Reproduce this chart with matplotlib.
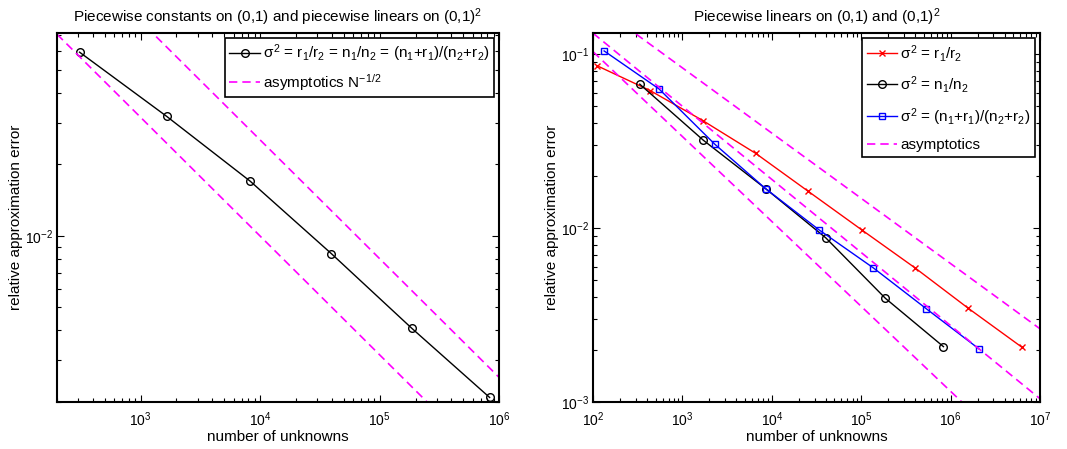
import matplotlib

matplotlib.use("Agg")
import matplotlib.pyplot as plt
from matplotlib.ticker import LogLocator, NullFormatter

plt.rcParams["font.family"] = ["Liberation Sans", "DejaVu Sans"]
plt.rcParams["mathtext.fontset"] = "custom"
plt.rcParams["mathtext.rm"] = "Liberation Sans"
plt.rcParams["mathtext.it"] = "Liberation Sans"
plt.rcParams["mathtext.bf"] = "Liberation Sans:bold"
plt.rcParams["font.size"] = 11

# linker Plot: stueckweise konstant auf (0,1), linear auf (0,1)^2
n_left = [309, 1653, 8283, 39500, 185800, 834000]
err_left = [0.0594, 0.0319, 0.0170, 0.00843, 0.00409, 0.00209]
asym_left_n = [200, 1e6]
asym_left_hi = [0.1796, 0.00254]
asym_left_lo = [0.0707, 0.00100]

# rechter Plot: stueckweise linear auf (0,1) und (0,1)^2
n_r = [112, 437, 1687, 6607, 25650, 101100, 400000, 1578000, 6290000]
err_r = [0.0853, 0.0615, 0.0414, 0.0268, 0.0162, 0.00975, 0.00589, 0.00345, 0.00206]
n_n = [333, 1714, 8531, 40100, 186200, 829600]
err_n = [0.0670, 0.0319, 0.0168, 0.00877, 0.00394, 0.00208]
n_nr = [133, 547, 2296, 8531, 33700, 136700, 531000, 2094000]
err_nr = [0.104, 0.0629, 0.0303, 0.0168, 0.00975, 0.00589, 0.00344, 0.00201]
asym_right_n = [1e2, 1e7]
asym_right = [
    [0.197, 0.00263],
    [0.1315, 0.001043],
    [0.103, 0.000374],
]

MAGENTA = "#ff00ff"


def _style_axes(ax):
    ax.set_xscale("log")
    ax.set_yscale("log")
    for sp in ax.spines.values():
        sp.set_linewidth(1.5)
    ax.tick_params(which="both", direction="in", top=True, right=True, labelsize=10)
    ax.tick_params(which="major", length=5, width=0.8)
    ax.tick_params(which="minor", length=3, width=0.8)
    ax.tick_params(axis="x", which="major", pad=6)
    ax.tick_params(axis="y", which="major", pad=3)
    ax.xaxis.set_minor_locator(LogLocator(base=10, subs=range(2, 10), numticks=20))
    ax.yaxis.set_minor_locator(LogLocator(base=10, subs=range(2, 10), numticks=20))
    ax.xaxis.set_minor_formatter(NullFormatter())
    ax.yaxis.set_minor_formatter(NullFormatter())
    ax.set_xlabel("number of unknowns", labelpad=1)
    ax.set_ylabel("relative approximation error", labelpad=1)


def _legend(ax, spacing):
    leg = ax.legend(loc="upper right", fancybox=False, edgecolor="k", framealpha=1,
                    handlelength=2.0, handletextpad=0.2, borderpad=0.3,
                    numpoints=1, borderaxespad=0.33, labelspacing=spacing)
    leg.get_frame().set_linewidth(1.2)


fig = plt.figure(figsize=(10.67, 4.49), dpi=100)
ax1 = fig.add_axes([0.0534, 0.1047, 0.4143, 0.822])
ax2 = fig.add_axes([0.5558, 0.1047, 0.4190, 0.822])

ax1.plot(n_left, err_left, "-o", color="k", lw=1.0, ms=5.5, mfc="none", mew=1.0,
         label=r"$\sigma^2$ = r$_1$/r$_2$ = n$_1$/n$_2$ = (n$_1$+r$_1$)/(n$_2$+r$_2$)")
ax1.plot(asym_left_n, asym_left_hi, color=MAGENTA, lw=1.2, dashes=(5, 3),
         label=r"asymptotics N$^{-1/2}$")
ax1.plot(asym_left_n, asym_left_lo, color=MAGENTA, lw=1.2, dashes=(5, 3))
_style_axes(ax1)
ax1.set_xlim(200, 1e6)
ax1.set_ylim(2e-3, 0.0716)
ax1.set_title(r"Piecewise constants on (0,1) and piecewise linears on (0,1)$^2$",
              fontsize=11, pad=8)
_legend(ax1, 0.5)

ax2.plot(n_r, err_r, "-x", color="r", lw=1.0, ms=4, mew=1.0, label=r"$\sigma^2$ = r$_1$/r$_2$")
ax2.plot(n_n, err_n, "-o", color="k", lw=1.0, ms=5.5, mfc="none", mew=1.0,
         label=r"$\sigma^2$ = n$_1$/n$_2$")
ax2.plot(n_nr, err_nr, "-s", color="b", lw=1.0, ms=4.5, mfc="none", mew=1.0,
         label=r"$\sigma^2$ = (n$_1$+r$_1$)/(n$_2$+r$_2$)")
for i, ys in enumerate(asym_right):
    ax2.plot(asym_right_n, ys, color=MAGENTA, lw=1.2, dashes=(5, 3),
             label="asymptotics" if i == 0 else None)
_style_axes(ax2)
ax2.set_xlim(1e2, 1e7)
ax2.set_ylim(1e-3, 0.132)
ax2.set_title(r"Piecewise linears on (0,1) and (0,1)$^2$", fontsize=11, pad=8)
_legend(ax2, 0.7)

fig.savefig("out.png", dpi=100)
plt.close(fig)
